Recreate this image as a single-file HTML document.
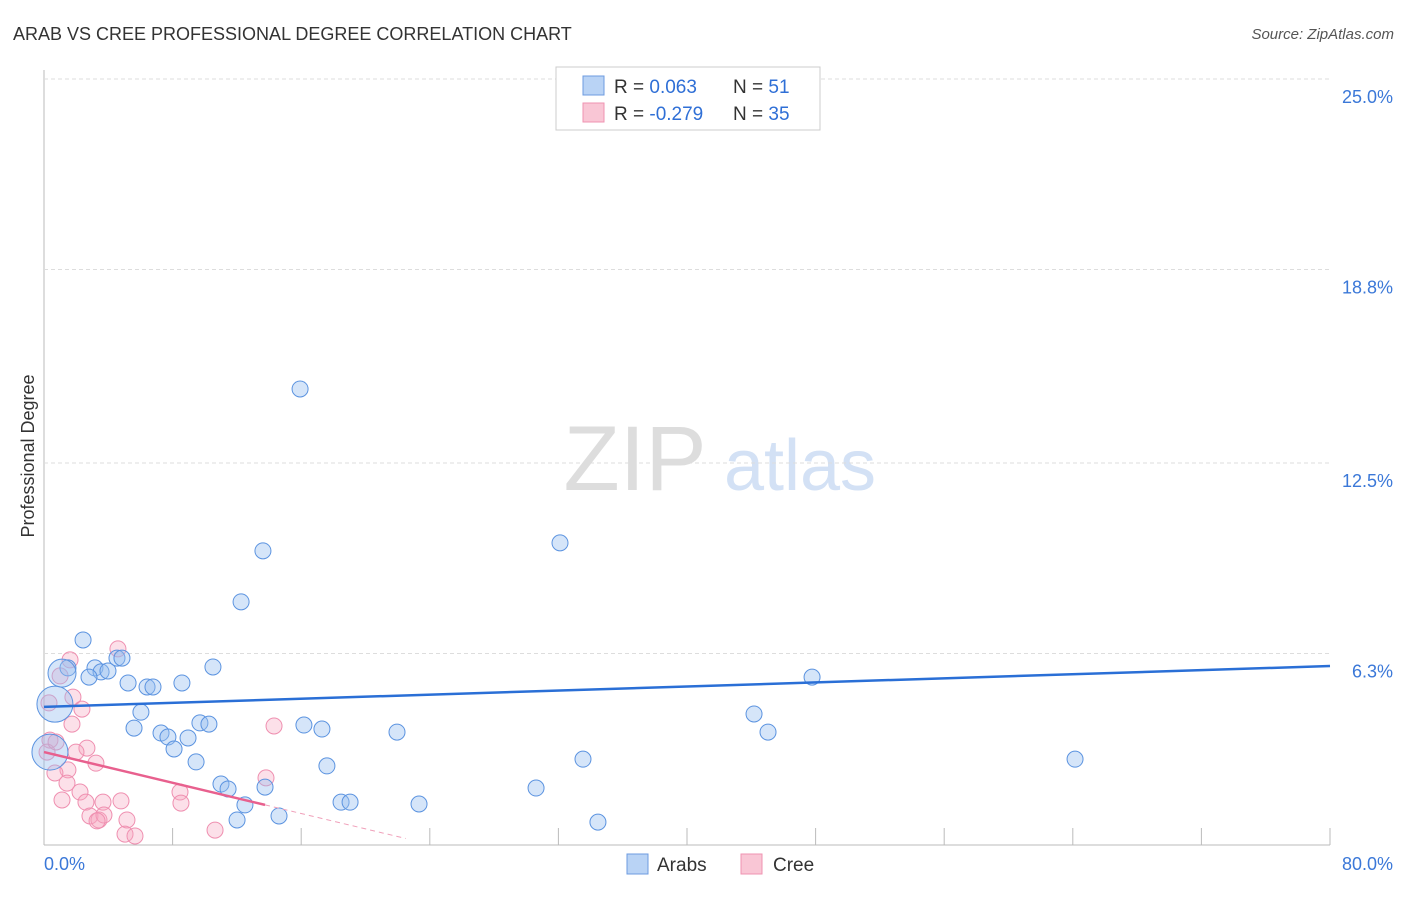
<!DOCTYPE html>
<html><head><meta charset="utf-8"><style>
body{margin:0;background:#fff;font-family:"Liberation Sans",sans-serif}
svg text{font-family:"Liberation Sans",sans-serif}
</style></head><body>
<svg id="c" width="1406" height="892">
<text x="13" y="40" font-size="18" fill="#333">ARAB VS CREE PROFESSIONAL DEGREE CORRELATION CHART</text>
<text x="1394" y="39" font-size="15" fill="#555" text-anchor="end" font-style="italic">Source: ZipAtlas.com</text>
<text x="34" y="456" font-size="18" fill="#333" text-anchor="middle" transform="rotate(-90 34 456)">Professional Degree</text>
<g>
<text x="635" y="490" font-size="92" fill="#ddd" text-anchor="middle" font-family="Liberation Serif,serif">ZIP</text>
<text x="800" y="490" font-size="72" fill="#d3e1f5" text-anchor="middle">atlas</text>
</g>
<g id="grid"></g><g id="pts"></g><g id="lines"></g>
<g>
<rect x="556" y="67" width="264" height="63" fill="#fff" stroke="#ccc"/>
<rect x="583" y="76" width="21" height="19" fill="#b9d3f5" stroke="#6d9be0"/>
<rect x="583" y="103" width="21" height="19" fill="#f9c6d5" stroke="#ef93b1"/>
<text x="614" y="93" font-size="19" fill="#333">R = <tspan fill="#2f6fd6"> 0.063</tspan></text>
<text x="733" y="93" font-size="19" fill="#333">N = <tspan fill="#2f6fd6"> 51</tspan></text>
<text x="614" y="120" font-size="19" fill="#333">R = <tspan fill="#2f6fd6">-0.279</tspan></text>
<text x="733" y="120" font-size="19" fill="#333">N = <tspan fill="#2f6fd6">35</tspan></text>
</g>
<g>
<rect x="627" y="854" width="21" height="20" fill="#b9d3f5" stroke="#6d9be0"/>
<text x="657" y="871" font-size="19" fill="#333">Arabs</text>
<rect x="741" y="854" width="21" height="20" fill="#f9c6d5" stroke="#ef93b1"/>
<text x="773" y="871" font-size="19" fill="#333">Cree</text>
</g>
</svg>
<script>
const yTicks=[25.0,18.8,12.5,6.3];
const yTickLabels=["25.0%","18.8%","12.5%","6.3%"];
const xTickLabels=["0.0%","80.0%"];
const arabX=[2.43,1.49,1.12,3.17,3.55,3.98,4.54,4.85,2.80,5.23,6.41,6.78,8.58,10.51,6.03,5.60,7.28,7.71,8.09,8.96,9.46,9.70,10.26,11.01,11.45,12.01,12.50,13.75,14.62,16.17,17.29,17.60,18.48,19.04,21.96,23.33,30.61,32.10,33.53,34.46,44.17,45.04,47.78,64.14,13.62,12.26,15.93,0.68,0.37,38.07];
const arabY=[6.74,5.83,5.66,5.83,5.70,5.73,6.15,6.15,5.53,5.34,5.21,5.21,5.34,5.86,4.39,3.87,3.71,3.58,3.19,3.55,2.77,4.04,4.00,2.05,1.89,0.88,1.37,1.95,1.01,3.97,3.84,2.64,1.46,1.46,3.74,1.40,1.92,9.90,2.86,0.81,4.33,3.74,5.53,2.86,9.64,7.98,14.91,4.65,3.09,24.15];
const arabSize=[8,8,14,8,8,8,8,8,8,8,8,8,8,8,8,8,8,8,8,8,8,8,8,8,8,8,8,8,8,8,8,8,8,8,8,8,8,8,8,8,8,8,8,8,8,8,8,18,18,8];
const creeX=[1.62,4.60,1.00,1.80,2.36,1.74,0.31,0.37,0.19,2.67,1.99,3.23,1.49,0.68,1.43,1.12,2.24,2.61,2.86,3.42,3.67,4.79,3.73,3.30,5.16,5.04,5.66,8.46,8.52,10.64,14.31,13.81,0.75];
const creeY=[6.09,6.45,5.57,4.88,4.49,4.00,4.69,3.48,3.09,3.22,3.09,2.73,2.51,2.41,2.08,1.53,1.79,1.46,1.01,0.88,1.46,1.50,1.04,0.85,0.88,0.42,0.36,1.79,1.43,0.55,3.94,2.25,3.42];
const arabTrend=[4.56,5.89];
const creeTrend=[3.09,-0.125];
const X0=44,X1=1330,Y0=847,YT=79;
const xs=v=>X0+v/80*(X1-X0);
const ys=v=>Y0-v/25*(Y0-YT);
const NS="http://www.w3.org/2000/svg";
function mk(t,p,a){const e=document.createElementNS(NS,t);for(const k in a)e.setAttribute(k,a[k]);p.appendChild(e);return e;}
const grid=document.getElementById('grid');
mk('line',grid,{x1:X0,y1:70,x2:X0,y2:845,stroke:'#bbb'});
mk('line',grid,{x1:X0,y1:845,x2:X1,y2:845,stroke:'#bbb'});
yTicks.forEach((t,i)=>{
const l=mk('line',grid,{x1:X0,y1:ys(t),x2:X1,y2:ys(t),stroke:'#ddd','stroke-dasharray':'4,3'});


const tx=mk('text',grid,{x:1393,y:ys(t)+24,'font-size':18,fill:'#3b78d8','text-anchor':'end'});
tx.textContent=yTickLabels[i];


});
for(let k=1;k<=10;k++){mk('line',grid,{x1:xs(k*8),y1:828,x2:xs(k*8),y2:845,stroke:'#bbb'});}
const xl0=mk('text',grid,{x:44,y:870,'font-size':18,fill:'#3b78d8'});xl0.textContent=xTickLabels[0];


const xl1=mk('text',grid,{x:1393,y:870,'font-size':18,fill:'#3b78d8','text-anchor':'end'});xl1.textContent=xTickLabels[1];


const pts=document.getElementById('pts');
creeX.forEach((x,i)=>{const c=mk('circle',pts,{cx:xs(x),cy:ys(creeY[i]),r:8,fill:'rgba(245,165,192,0.35)',stroke:'#ef8fb0','stroke-width':1});

});
arabX.forEach((x,i)=>{const c=mk('circle',pts,{cx:xs(x),cy:ys(arabY[i]),r:arabSize[i],fill:'rgba(150,190,240,0.4)',stroke:'#5b93e0','stroke-width':1});

});
const L=document.getElementById('lines');
const a=mk('line',L,{x1:xs(0),y1:ys(arabTrend[0]),x2:xs(80),y2:ys(arabTrend[1]),stroke:'#2a6fd6','stroke-width':2.5});


const cf=x=>creeTrend[0]+creeTrend[1]*x;
const b=mk('line',L,{x1:xs(0),y1:ys(cf(0)),x2:xs(13.75),y2:ys(cf(13.75)),stroke:'#e8608e','stroke-width':2.5});


const d=mk('line',L,{x1:xs(13.75),y1:ys(cf(13.75)),x2:xs(22.5),y2:ys(cf(22.5)),stroke:'#f0a0ba','stroke-width':1,'stroke-dasharray':'5,4'});


</script>
</body></html>
